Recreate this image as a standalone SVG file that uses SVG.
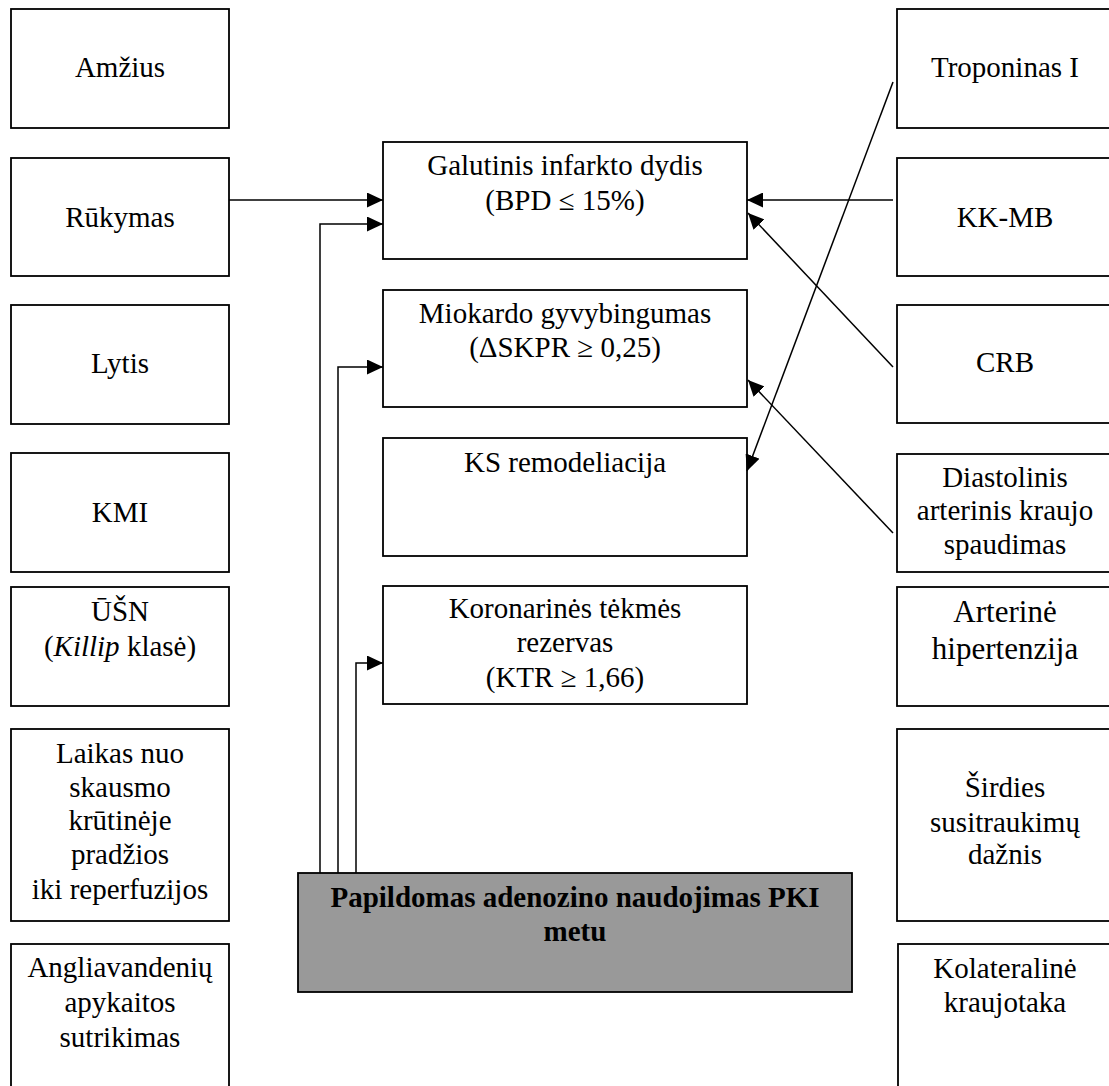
<svg xmlns="http://www.w3.org/2000/svg" width="1109" height="1086" viewBox="0 0 1109 1086">
<style>
.box{fill:#fff;stroke:#000;stroke-width:1.8}
.pki{fill:#999;stroke:#000;stroke-width:1.8}
.t{font-family:"Liberation Serif","Times New Roman",serif;font-size:29px;fill:#000;text-anchor:middle}
.b{font-weight:bold}
.big{font-size:31px}
.c{fill:none;stroke:#000;stroke-width:1.5}
</style>
<defs>
<marker id="ah" markerUnits="userSpaceOnUse" markerWidth="16" markerHeight="15" refX="16" refY="7.5" orient="auto" viewBox="0 0 16 15">
<path d="M0,0 L16,7.5 L0,15 z" fill="#000"/>
</marker>
</defs>
<rect x="0" y="0" width="1109" height="1086" fill="#fff"/>

<g id="amzius"><rect class="box" x="11" y="9" width="218" height="119"/><text class="t" x="120" y="77">Amžius</text></g>
<g id="rukymas"><rect class="box" x="11" y="158" width="218" height="118"/><text class="t" x="120" y="227">Rūkymas</text></g>
<g id="lytis"><rect class="box" x="11" y="305" width="218" height="119"/><text class="t" x="120" y="373">Lytis</text></g>
<g id="kmi"><rect class="box" x="11" y="453" width="218" height="119"/><text class="t" x="120" y="522">KMI</text></g>
<g id="usn"><rect class="box" x="11" y="587" width="218" height="119"/><text class="t" x="120" y="621">ŪŠN</text><text class="t" x="120" y="656">(<tspan font-style="italic">Killip</tspan> klasė)</text></g>
<g id="laikas"><rect class="box" x="11" y="729" width="218" height="192"/>
<text class="t" x="120" y="763">Laikas nuo</text><text class="t" x="120" y="797">skausmo</text><text class="t" x="120" y="830">krūtinėje</text><text class="t" x="120" y="864">pradžios</text><text class="t" x="120" y="899">iki reperfuzijos</text></g>
<g id="angliavandeniu"><rect class="box" x="11" y="944" width="218" height="160"/>
<text class="t" x="120" y="977">Angliavandenių</text><text class="t" x="120" y="1012">apykaitos</text><text class="t" x="120" y="1047">sutrikimas</text></g>

<g id="galutinis"><rect class="box" x="383" y="142" width="364" height="117"/><text class="t" x="565" y="175">Galutinis infarkto dydis</text><text class="t" x="565" y="210">(BPD ≤ 15%)</text></g>
<g id="miokardo"><rect class="box" x="383" y="290" width="364" height="117"/><text class="t" x="565" y="323">Miokardo gyvybingumas</text><text class="t" x="565" y="357">(ΔSKPR ≥ 0,25)</text></g>
<g id="ks"><rect class="box" x="383" y="438" width="364" height="118"/><text class="t" x="565" y="472">KS remodeliacija</text></g>
<g id="koronarines"><rect class="box" x="383" y="586" width="364" height="118"/><text class="t" x="565" y="618">Koronarinės tėkmės</text><text class="t" x="565" y="652">rezervas</text><text class="t" x="565" y="687">(KTR ≥ 1,66)</text></g>

<g id="pki"><rect class="pki" x="298" y="873" width="554" height="119"/><text class="t b" x="575" y="907">Papildomas adenozino naudojimas PKI</text><text class="t b" x="575" y="941">metu</text></g>

<g id="troponinas"><rect class="box" x="897" y="9" width="216" height="119"/><text class="t" x="1005" y="77">Troponinas I</text></g>
<g id="kkmb"><rect class="box" x="897" y="158" width="216" height="118"/><text class="t" x="1005" y="227">KK-MB</text></g>
<g id="crb"><rect class="box" x="897" y="305" width="216" height="118"/><text class="t" x="1005" y="372">CRB</text></g>
<g id="diastolinis"><rect class="box" x="897" y="454" width="216" height="118"/><text class="t" x="1005" y="487">Diastolinis</text><text class="t" x="1005" y="520">arterinis kraujo</text><text class="t" x="1005" y="554">spaudimas</text></g>
<g id="arterine"><rect class="box" x="897" y="587" width="216" height="119"/><text class="t big" x="1005" y="622">Arterinė</text><text class="t big" x="1005" y="659">hipertenzija</text></g>
<g id="sirdies"><rect class="box" x="897" y="729" width="216" height="192"/><text class="t" x="1005" y="797">Širdies</text><text class="t" x="1005" y="832">susitraukimų</text><text class="t" x="1005" y="864">dažnis</text></g>
<g id="kolateraline"><rect class="box" x="898" y="944" width="216" height="160"/><text class="t" x="1005" y="978">Kolateralinė</text><text class="t" x="1005" y="1012">kraujotaka</text></g>

<g id="connectors">
<line class="c" x1="229" y1="200" x2="383" y2="200" marker-end="url(#ah)"/>
<polyline class="c" points="320,873 320,224 383,224" marker-end="url(#ah)"/>
<polyline class="c" points="338,873 338,367 383,367" marker-end="url(#ah)"/>
<polyline class="c" points="356,873 356,663 383,663" marker-end="url(#ah)"/>
<line class="c" x1="893" y1="200" x2="747" y2="200" marker-end="url(#ah)"/>
<line class="c" x1="893" y1="367" x2="748" y2="213" marker-end="url(#ah)"/>
<line class="c" x1="893" y1="533" x2="748" y2="380" marker-end="url(#ah)"/>
<line class="c" x1="893" y1="82" x2="747" y2="471" marker-end="url(#ah)"/>
</g>
</svg>
